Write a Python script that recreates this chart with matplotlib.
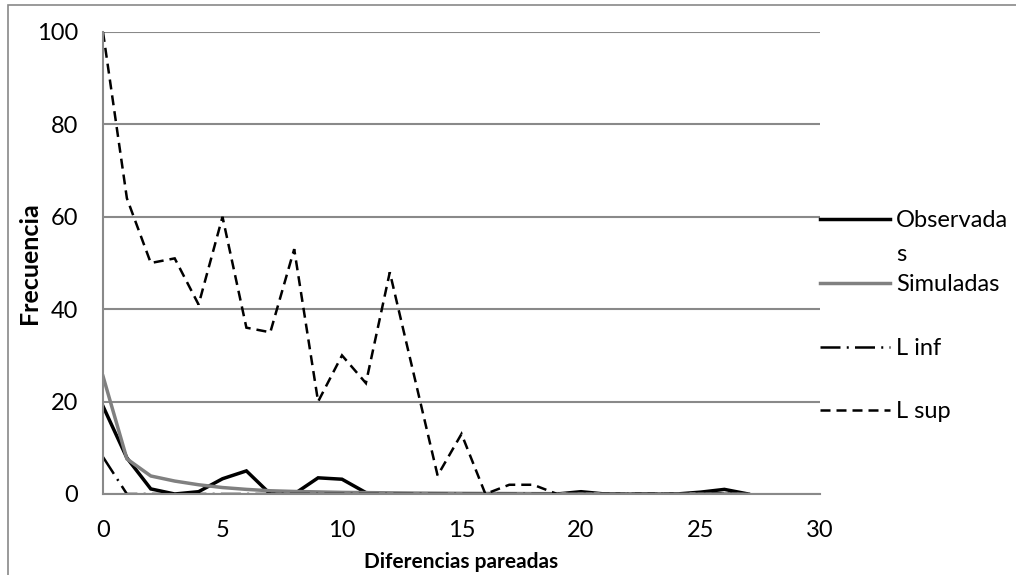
import matplotlib
matplotlib.use("Agg")
import matplotlib.pyplot as plt
from matplotlib.lines import Line2D
from matplotlib.patches import Rectangle

plt.rcParams['font.family'] = ['Lato', 'DejaVu Sans']

x = list(range(0, 28))
observadas = [19, 7.8, 1.1, 0, 0.5, 3.3, 5, 0, 0, 3.5, 3.2, 0.3, 0, 0, 0, 0, 0,
              0, 0, 0, 0.5, 0, 0, 0, 0, 0.4, 1, 0]
simuladas = [25.5, 7.6, 3.9, 2.8, 2.0, 1.4, 1.0, 0.7, 0.55, 0.45, 0.35, 0.3, 0.25,
             0.2, 0.17, 0.14, 0.12, 0.1, 0.08, 0.07, 0.06, 0.05, 0.04, 0.03,
             0.03, 0.02, 0.02, 0.01]
l_inf = [8] + [0] * 27
l_sup = [100, 64, 50, 51, 41, 60, 36, 35, 53, 20, 30, 24, 48, 26, 4, 13, 0,
         2, 2, 0, 0, 0, 0, 0, 0, 0, 0, 0]

labels = ["Observada\ns", "Simuladas", "L inf", "L sup"]
x_ticks = [0, 5, 10, 15, 20, 25, 30]
y_ticks = [0, 20, 40, 60, 80, 100]

grid_col = "#898989"

fig = plt.figure(figsize=(10.16, 5.75), dpi=100)
ax = fig.add_axes([103 / 1016, 1 - 494 / 575, (820 - 103) / 1016, (494 - 32) / 575])

styles = [
    dict(color="black", lw=2.5, linestyle="-"),
    dict(color="#808080", lw=2.5, linestyle="-"),
    dict(color="black", lw=1.8, linestyle=(0, (8, 2.5, 0.8, 2.5))),
    dict(color="black", lw=1.8, linestyle=(0, (4, 2.4))),
]
series = [observadas, simuladas, l_inf, l_sup]
for ys, st in zip(series, styles):
    ax.plot(x, ys, solid_joinstyle="miter", dash_joinstyle="miter", **st)

ax.set_xlim(0, 30)
ax.set_ylim(0, 100)
ax.set_xticks(x_ticks)
ax.set_yticks(y_ticks)
ax.yaxis.grid(True, color=grid_col, lw=1.5)
ax.set_axisbelow(True)
for s in ["top", "right"]:
    ax.spines[s].set_visible(False)
for s in ["left", "bottom"]:
    ax.spines[s].set_color(grid_col)
    ax.spines[s].set_linewidth(1.5)
ax.tick_params(axis="y", length=0, pad=18, labelsize=17)
ax.tick_params(axis="x", length=0, pad=19, labelsize=17)
ax.set_xlabel("Diferencias pareadas", fontsize=15, fontweight="bold", labelpad=8)
ax.set_ylabel("Frecuencia", fontsize=18, fontweight="bold", labelpad=-3)

# legend drawn at the right, Excel style
leg_y = [219, 283, 347, 410]
for lab, st, yy in zip(labels, styles, leg_y):
    yf = 1 - yy / 575
    fig.add_artist(Line2D([820 / 1016, 890 / 1016], [yf, yf], transform=fig.transFigure, **st))
    fig.text(896 / 1016, yf + 9 / 575, lab, fontsize=17, va="top", ha="left",
             linespacing=1.75)

fig.add_artist(Rectangle((8 / 1016, -0.05), 1.1, 1 - 5 / 575 + 0.05, transform=fig.transFigure,
                         fill=False, edgecolor=grid_col, lw=1.2))

fig.savefig("out.png", dpi=100)
